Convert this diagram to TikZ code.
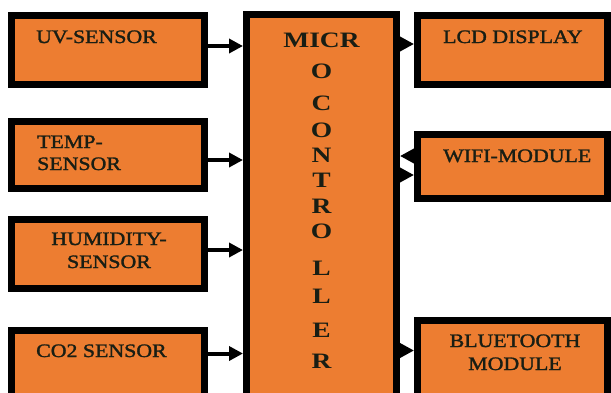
\documentclass[tikz,border=0pt]{standalone}
\usepackage{fontspec}
\setmainfont{Liberation Serif}
\newfontfamily\lblfont[FakeBold=1.5]{Liberation Serif}
\usetikzlibrary{arrows.meta}
\definecolor{boxorange}{RGB}{237,125,49}
\definecolor{txtdark}{RGB}{25,30,20}
\newcommand{\wtxt}[1]{\scalebox{1.15}[1]{#1}}
\newcommand{\mtxt}[1]{\scalebox{1.25}[1]{#1}}

\begin{document}
\begin{tikzpicture}[x=1pt,y=-1pt,>={Triangle[length=14pt,width=14pt]},line join=miter,
        blk/.style={draw=black,fill=boxorange,line width=7pt,inner sep=0pt},
        lbl/.style={font=\lblfont\fontsize{19}{23}\selectfont,text=txtdark,inner sep=0pt},
        mclbl/.style={font=\bfseries\fontsize{22}{26}\selectfont,text=txtdark,inner sep=0pt,anchor=base},
        arr/.style={->,line width=4pt}]
        \useasboundingbox (0,0) rectangle (611,392);
        \clip (0,0) rectangle (611,392);
        % sensors
        \node[blk,minimum width=193pt,minimum height=69pt] (uv) at (108,50) {};
        \node[blk,minimum width=193pt,minimum height=67pt] (temp) at (108,155) {};
        \node[blk,minimum width=193pt,minimum height=69pt] (hum) at (108,254) {};
        \node[blk,minimum width=193pt,minimum height=90pt] (co2) at (108,375.5) {};
        % controller
        \node[blk,minimum width=150pt,minimum height=410pt] (mc) at (321.5,219.5) {};
        % outputs
        \node[blk,minimum width=190pt,minimum height=69pt] (lcd) at (512.5,50) {};
        \node[blk,minimum width=190pt,minimum height=64pt] (wifi) at (512.5,166.5) {};
        \node[blk,minimum width=190pt,minimum height=100pt] (bt) at (512.5,370.5) {};
        % texts
        \node[lbl,anchor=base west] (uvt) at (36,43) {\wtxt{UV-SENSOR}};
        \node[lbl,anchor=base west] (tempa) at (37,148) {\wtxt{TEMP-}};
        \node[lbl,anchor=base west] (tempb) at (37,170) {\wtxt{SENSOR}};
        \node[lbl,anchor=base] (huma) at (109,245) {\wtxt{HUMIDITY-}};
        \node[lbl,anchor=base] (humb) at (109,268) {\wtxt{SENSOR}};
        \node[lbl,anchor=base west] (co2t) at (36,357) {\wtxt{CO2 SENSOR}};
        \node[lbl,anchor=base west] (lcdt) at (443,43) {\wtxt{LCD DISPLAY}};
        \node[lbl,anchor=base west] (wifit) at (443,162) {\wtxt{WIFI-MODULE}};
        \node[lbl,anchor=base] (bta) at (515,347) {\wtxt{BLUETOOTH}};
        \node[lbl,anchor=base] (btb) at (515,370) {\wtxt{MODULE}};
        \foreach \ch/\yy [count=\i] in {MICR/47,O/78,C/110,O/137,N/162,T/187,R/213,O/238,L/275,L/303,E/337,R/368}
            \node[mclbl] (mc\i) at (321.5,\yy) {\mtxt{\ch}};
        % connectors
        \draw[arr] ([yshift=4pt]uv.east) -- ([yshift=4pt]uv.east -| mc.west);
        \draw[arr] ([yshift=-5pt]temp.east) -- ([yshift=-5pt]temp.east -| mc.west);
        \draw[arr] ([yshift=4pt]hum.east) -- ([yshift=4pt]hum.east -| mc.west);
        \draw[arr] ([yshift=22pt]co2.east) -- ([yshift=22pt]co2.east -| mc.west);
        \draw[arr] ([yshift=6pt]mc.east |- lcd.east) -- ([yshift=6pt]lcd.west);
        \draw[arr] ([yshift=10.5pt]wifi.west) -- ([yshift=10.5pt]wifi.west -| mc.east);
        \draw[arr] ([yshift=-8.5pt]mc.east |- wifi.east) -- ([yshift=-8.5pt]wifi.west);
        \draw[arr] ([yshift=20pt]mc.east |- bt.east) -- ([yshift=20pt]bt.west);
\end{tikzpicture}
\end{document}
